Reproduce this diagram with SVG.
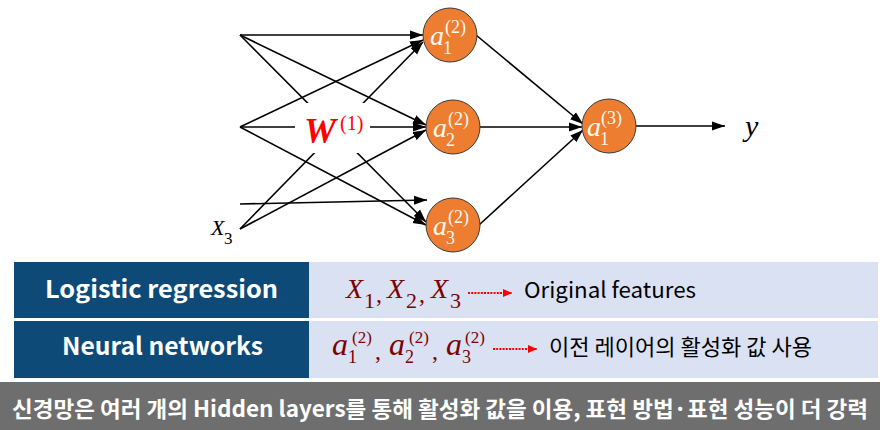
<svg xmlns="http://www.w3.org/2000/svg" width="880" height="430" viewBox="0 0 880 430">
<defs>
<marker id="ah" markerUnits="userSpaceOnUse" markerWidth="14" markerHeight="10" refX="13" refY="5" orient="auto">
<path d="M0,0.5 L13,5 L0,9.5 z" fill="#000"/>
</marker>
<marker id="rh" markerUnits="userSpaceOnUse" markerWidth="10" markerHeight="8" refX="9" refY="4" orient="auto">
<path d="M0,0 L9,4 L0,8 z" fill="#FF0000"/>
</marker>
</defs>
<style>
.ln{stroke:#000;stroke-width:1.6;fill:none;marker-end:url(#ah)}
.node{fill:#ED7D31;stroke:#3a3a3a;stroke-width:1}
.nt{fill:#FFF8EE;font-family:"Liberation Serif","DejaVu Serif",serif;font-style:italic}
.ns{fill:#FFF8EE;font-family:"Liberation Serif","DejaVu Serif",serif}
.math{fill:#7F0000;font-family:"Liberation Serif","DejaVu Serif",serif}
.dot{stroke:#FF0000;stroke-width:2;stroke-dasharray:2,1.2;fill:none;marker-end:url(#rh)}
.hdr{fill:#FFFFFF;font-family:"Noto Sans CJK KR","Noto Sans",sans-serif;font-weight:bold;font-size:24px}
.body{fill:#000;font-family:"Noto Sans CJK KR","Noto Sans",sans-serif;font-size:22px}
</style>

<g id="connectors">
<line class="ln" x1="240" y1="35" x2="423" y2="35"/>
<line class="ln" x1="240" y1="35" x2="426" y2="125"/>
<line class="ln" x1="240" y1="35" x2="426" y2="222"/>
<line class="ln" x1="240" y1="127" x2="423" y2="40"/>
<line class="ln" x1="240" y1="127" x2="426" y2="127"/>
<line class="ln" x1="240" y1="127" x2="426" y2="225"/>
<line class="ln" x1="240" y1="229" x2="423" y2="42"/>
<line class="ln" x1="240" y1="229" x2="426" y2="130"/>
<line class="ln" x1="240" y1="204" x2="427" y2="200"/>
<line class="ln" x1="476" y1="35" x2="583" y2="124"/>
<line class="ln" x1="480" y1="127" x2="582" y2="127"/>
<line class="ln" x1="479" y1="225" x2="583" y2="130"/>
<line class="ln" x1="636" y1="126" x2="725" y2="126"/>
</g>

<g id="w-label">
<rect x="295" y="103" width="75" height="50" fill="#FFFFFF"/>
<text x="304" y="143" fill="#FF0000" font-family="Liberation Serif,DejaVu Serif,serif" font-style="italic" font-weight="bold" font-size="36">W</text>
<text x="340" y="130" fill="#FF0000" font-family="Liberation Serif,DejaVu Serif,serif" font-size="20">(1)</text>
</g>

<g id="input-x3">
<text x="211" y="235" font-family="Liberation Serif,DejaVu Serif,serif" font-style="italic" font-size="22" fill="#000">X</text>
<text x="224" y="244" font-family="Liberation Serif,DejaVu Serif,serif" font-size="17" fill="#000">3</text>
</g>

<g id="node-a1-2">
<circle class="node" cx="450" cy="35" r="27"/>
<text class="nt" x="430" y="45" font-size="28">a</text>
<text class="ns" x="443" y="54" font-size="18">1</text>
<text class="ns" x="445" y="33" font-size="18">(2)</text>
</g>
<g id="node-a2-2">
<circle class="node" cx="453" cy="127" r="27"/>
<text class="nt" x="433" y="137" font-size="28">a</text>
<text class="ns" x="446" y="146" font-size="18">2</text>
<text class="ns" x="448" y="125" font-size="18">(2)</text>
</g>
<g id="node-a3-2">
<circle class="node" cx="453" cy="225" r="27"/>
<text class="nt" x="433" y="235" font-size="28">a</text>
<text class="ns" x="446" y="244" font-size="18">3</text>
<text class="ns" x="448" y="223" font-size="18">(2)</text>
</g>
<g id="node-a1-3">
<circle class="node" cx="609" cy="126" r="27"/>
<text class="nt" x="587" y="136" font-size="28">a</text>
<text class="ns" x="600" y="145" font-size="18">1</text>
<text class="ns" x="601" y="124" font-size="18">(3)</text>
</g>
<g id="output-y">
<text x="745" y="136" font-family="Liberation Serif,DejaVu Serif,serif" font-style="italic" font-size="30" fill="#000">y</text>
</g>

<g id="table">
<rect x="14" y="262" width="295" height="56" fill="#0D4A78"/>
<rect x="309" y="262" width="569" height="56" fill="#DAE1F2"/>
<rect x="14" y="321" width="295" height="57" fill="#0D4A78"/>
<rect x="309" y="321" width="569" height="57" fill="#DAE1F2"/>
<text class="hdr" x="45" y="298" textLength="233" lengthAdjust="spacingAndGlyphs">Logistic regression</text>
<text class="hdr" x="62" y="355" textLength="201" lengthAdjust="spacingAndGlyphs">Neural networks</text>

<text class="math" x="346" y="298" font-size="28" font-style="italic">X</text>
<text class="math" x="364" y="308" font-size="22">1</text>
<text class="math" x="376" y="302" font-size="24">,</text>
<text class="math" x="387" y="298" font-size="28" font-style="italic">X</text>
<text class="math" x="406" y="308" font-size="22">2</text>
<text class="math" x="419" y="302" font-size="24">,</text>
<text class="math" x="431" y="298" font-size="28" font-style="italic">X</text>
<text class="math" x="450" y="308" font-size="22">3</text>
<line class="dot" x1="468" y1="293" x2="512" y2="293"/>
<text class="body" x="524" y="298" textLength="172" lengthAdjust="spacingAndGlyphs">Original features</text>

<text class="math" x="332" y="355" font-size="32" font-style="italic">a</text>
<text class="math" x="348" y="363" font-size="18">1</text>
<text class="math" x="352" y="343" font-size="17">(2)</text>
<text class="math" x="375" y="359" font-size="24">,</text>
<text class="math" x="389" y="355" font-size="32" font-style="italic">a</text>
<text class="math" x="405" y="363" font-size="18">2</text>
<text class="math" x="409" y="343" font-size="17">(2)</text>
<text class="math" x="432" y="359" font-size="24">,</text>
<text class="math" x="446" y="355" font-size="32" font-style="italic">a</text>
<text class="math" x="462" y="363" font-size="18">3</text>
<text class="math" x="465" y="343" font-size="17">(2)</text>
<line class="dot" x1="493" y1="349" x2="537" y2="349"/>
<text class="body" x="549" y="355" textLength="263" lengthAdjust="spacingAndGlyphs">이전 레이어의 활성화 값 사용</text>
</g>

<g id="banner">
<rect x="0" y="382" width="880" height="48" fill="#6E6E6E"/>
<text x="12" y="417" fill="#FFFFFF" font-family="Noto Sans CJK KR,Noto Sans,sans-serif" font-weight="bold" font-size="22" textLength="856" lengthAdjust="spacingAndGlyphs">신경망은 여러 개의 Hidden layers를 통해 활성화 값을 이용, 표현 방법·표현 성능이 더 강력</text>
</g>
</svg>
